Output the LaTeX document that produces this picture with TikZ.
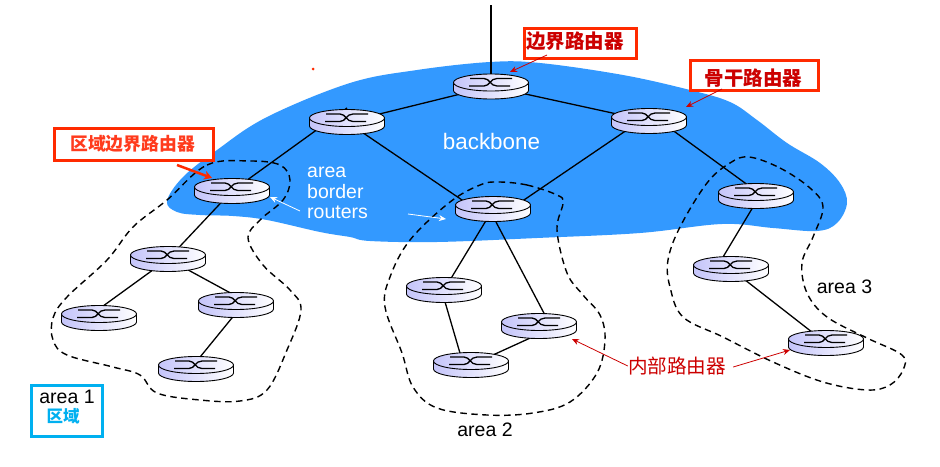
\documentclass[tikz,border=0pt]{standalone}
\usepackage{fontspec}
\setmainfont{Liberation Sans}
\newfontfamily\cjk{Noto Sans CJK SC}
\usetikzlibrary{shapes.geometric,calc,arrows.meta}
\definecolor{blobblue}{HTML}{3399FF}
\definecolor{boxred}{HTML}{FF2A00}
\definecolor{darkred}{HTML}{CC0000}
\definecolor{orangered}{HTML}{FF3B1D}
\definecolor{areablue}{HTML}{00B0F0}
\definecolor{lavender2}{HTML}{C4C4FA}
\pgfdeclarelayer{lines}
\pgfsetlayers{lines,main}
\tikzset{
  x=1pt,y=-1pt,
  routernode/.style={shape=ellipse,minimum width=75pt,minimum height=25pt,inner sep=0pt,outer sep=0pt},
  link/.style={draw=black,line width=1.3pt},
  areadash/.style={draw=black,line width=1.4pt,dash pattern=on 6.5pt off 4.5pt},
  redbox/.style={draw=boxred,line width=3pt,fill=white,inner sep=0pt},
  bluebox/.style={draw=areablue,line width=3pt,fill=white,inner sep=0pt},
  thinred/.style={draw=darkred,line width=0.8pt,-{Stealth[length=7pt,width=6pt]}},
  thinwhite/.style={draw=white,line width=0.8pt,-{Stealth[length=7pt,width=6pt]}},
  thickred/.style={draw=boxred,line width=2.5pt,-{Stealth[length=8pt,width=9pt]}},
  plainlabel/.style={inner sep=0pt,font=\fontsize{19.5}{20}\selectfont},
}
\newcommand{\router}[3]{%
  \node[routernode] (#1) at (#2,#3) {};
  \begin{scope}[shift={(#2,#3)}]
    \path[draw=black,line width=0.9pt,left color=lavender2,right color=white]
      (-37.5,-4) -- (-37.5,4) arc[start angle=180,end angle=0,x radius=37.5,y radius=8.5] -- (37.5,-4) -- cycle;
    \path[draw=black,line width=0.9pt,left color=lavender2,right color=white]
      (0,-4) ellipse[x radius=37.5,y radius=8.5];
    \draw[black,line width=1.3pt] (-21,-8) -- (-7,-8) .. controls (-1,-8) and (-1,-0.5) .. (6,-0.5) -- (19,-0.5);
    \draw[black,line width=1.3pt] (-22,-0.5) -- (-7,-0.5) .. controls (-1,-0.5) and (-1,-8) .. (6,-8) -- (21,-8);
  \end{scope}}
\begin{document}
\begin{tikzpicture}
\useasboundingbox (0,0) rectangle (940,466);
\begin{pgfonlayer}{lines}
\fill[white] (0,0) rectangle (940,466);
\fill[blobblue] plot[smooth cycle,tension=0.6] coordinates {
 (167,201) (177,212) (200,215) (233,216) (267,220) (320,232) (350,237) (370,241) (437,242) (537,238)
 (640,233) (722,224) (773,228) (817,231) (837,223) (847,203) (840,183) (820,163) (787,143)
 (757,120) (730,102) (690,90) (623,75) (540,63) (490,62) (417,70) (350,83) (267,117) (217,150) (183,177)};
\end{pgfonlayer}
\router{ra}{491}{86.5}
\router{rb}{347}{122}
\router{rc}{232}{191}
\router{rd}{493}{209}
\router{re}{649}{121}
\router{rf}{756}{196}
\router{rg}{731}{269}
\router{rh}{826}{343}
\router{ri}{168}{259}
\router{rj}{99}{318}
\router{rk}{236}{305}
\router{rl}{196}{369}
\router{rm}{444}{290}
\router{rn}{539}{326}
\router{ro}{471}{365}
\coordinate (uplink) at (491,5);
\begin{pgfonlayer}{lines}
\draw[link] (uplink) -- (ra);
\draw[link] (ra) -- (rb);
\draw[link] (ra) -- (re);
\draw[link] (rc) -- ($(rb)+(0,-14)$);
\draw[link] (rb) -- ($(rd)+(0,12)$);
\draw[link] ($(re)+(0,-6)$) -- ($(rd)+(0,12)$);
\draw[link] ($(re)+(0,-8)$) -- ($(rf)+(0,-5)$);
\draw[link] (rc) -- (ri);
\draw[link] (ri) -- ($(rj)+(0,-9)$);
\draw[link] (ri) -- ($(rk)+(0,-9)$);
\draw[link] ($(rk)+(0,8)$) -- ($(rl)+(0,-7)$);
\draw[link] (rd) -- (rm);
\draw[link] ($(rd)+(3,13)$) -- ($(rn)+(7,-9)$);
\draw[link] ($(rm)+(-1,5)$) -- ($(ro)+(-9,-5)$);
\draw[link] (ro) -- ($(rn)+(0,8)$);
\draw[link] ($(rf)+(0,6)$) -- ($(rg)+(-11,-7)$);
\draw[link] (rg) -- (rh);
\end{pgfonlayer}
% areas
\draw[areadash] plot[smooth cycle,tension=0.6] coordinates {
 (167,200) (207,165) (250,161) (280,165) (290,180) (283,200) (260,220) (248,238) (263,265) (290,290)
 (301,310) (287,350) (267,390) (240,401) (200,400) (157,393) (140,375) (113,367) (67,355) (53,340)
 (53,318) (67,297) (107,260) (133,227)};
\draw[areadash] plot[smooth cycle,tension=0.6] coordinates {
 (498,182) (527,185) (557,195) (563,203) (557,230) (567,273) (583,295) (600,315) (605,340) (597,373)
 (570,402) (533,413) (487,415) (437,408) (413,387) (402,353) (385,307) (390,277) (410,240) (450,202) (480,185)};
\draw[areadash] plot[smooth cycle,tension=0.6] coordinates {
 (749,157) (780,168) (810,188) (823,207) (813,237) (802,263) (807,293) (827,317) (867,338) (902,355)
 (903,370) (890,385) (867,390) (823,382) (773,362) (723,337) (683,317) (670,287) (668,260) (680,227) (707,183) (730,163)};
% boxes
\node[redbox,minimum width=112pt,minimum height=30pt] (lbedge) at (580.5,43.5) {};
\node[inner sep=0pt,text=darkred,font=\cjk\bfseries\fontsize{19.5}{20}\selectfont] (lbedgetext) at (575,41.5) {边界路由器};
\node[redbox,minimum width=128pt,minimum height=30pt] (lbback) at (754.5,75.5) {};
\node[inner sep=0pt,text=darkred,font=\cjk\bfseries\fontsize{19.5}{20}\selectfont] (lbbacktext) at (753.5,78) {骨干路由器};
\node[redbox,minimum width=159pt,minimum height=32pt] (lbarea) at (134,144.5) {};
\node[inner sep=0pt,text=orangered,font=\cjk\bfseries\fontsize{17.8}{18}\selectfont] (lbareatext) at (132.5,143.5) {区域边界路由器};
\node[bluebox,minimum width=71pt,minimum height=51pt] (lbone) at (67,411) {};
\node[plainlabel,text=black] (areaone) at (67,397) {area 1};
\node[inner sep=0pt,text=areablue,font=\cjk\bfseries\fontsize{16.5}{18}\selectfont] (areaonecn) at (63,416) {区域};
% labels
\node[plainlabel,text=black] (areatwo) at (485,430) {area 2};
\node[plainlabel,text=black] (areathree) at (844.5,287) {area 3};
\node[inner sep=0pt,text=white,font=\fontsize{22.4}{24}\selectfont] (bb) at (491.5,141) {backbone};
\node[plainlabel,text=white,anchor=west] (abr1) at (307,172) {area};
\node[plainlabel,text=white,anchor=west] (abr2) at (307,192) {border};
\node[plainlabel,text=white,anchor=west] (abr3) at (307,212) {routers};
\node[inner sep=0pt,text=darkred,font=\cjk\fontsize{19.6}{20}\selectfont] (internal) at (677,366) {内部路由器};
\fill[boxred] (313,69) circle[radius=1.5];
% arrows
\coordinate (s1) at (547,55); \coordinate (t1) at (510,72);
\coordinate (s2) at (722,89); \coordinate (t2) at (686,107);
\coordinate (s3) at (177,165); \coordinate (t3) at (212,178);
\coordinate (s4) at (300,211); \coordinate (t4) at (270,197);
\coordinate (s5) at (408,214); \coordinate (t5) at (446,219);
\coordinate (t6) at (572,339); \coordinate (t7) at (790,350);
\draw[thinred] (s1) -- (t1);
\draw[thinred] (s2) -- (t2);
\draw[thickred] (s3) -- (t3);
\draw[thinwhite] (s4) -- (t4);
\draw[thinwhite] (s5) -- (t5);
\draw[thinred] (internal.west) -- (t6);
\draw[thinred] ($(internal.east)+(7,1)$) -- (t7);
\end{tikzpicture}
\end{document}
